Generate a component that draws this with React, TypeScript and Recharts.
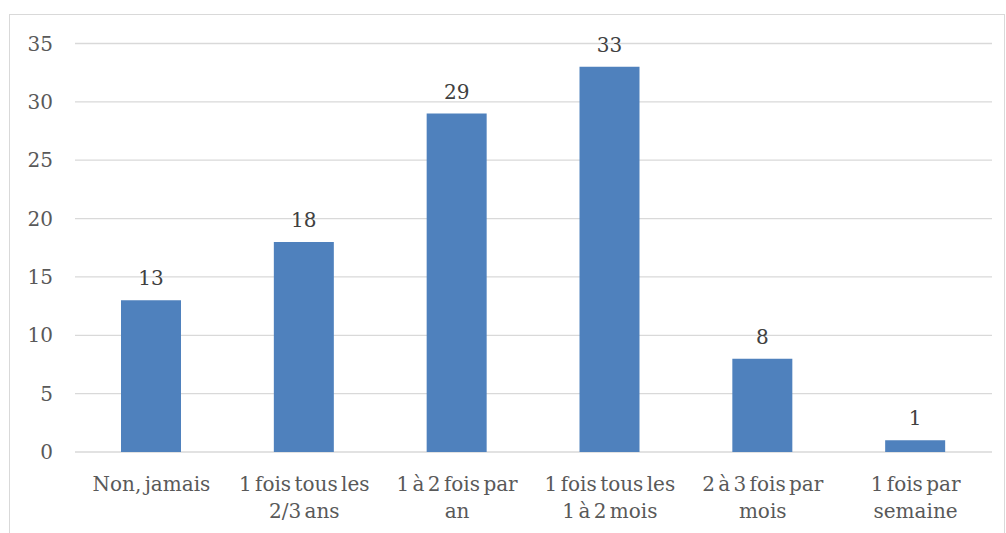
import React from "react";
import { BarChart, Bar, XAxis, YAxis, CartesianGrid, LabelList } from "recharts";

const categoryLines: string[][] = [
  ["Non, jamais"],
  ["1 fois tous les", "2/3 ans"],
  ["1 à 2 fois par", "an"],
  ["1 fois tous les", "1 à 2 mois"],
  ["2 à 3 fois par", "mois"],
  ["1 fois par", "semaine"],
];
const categories: string[] = categoryLines.map((l) => l.join(" "));
const values: number[] = [13, 18, 29, 33, 8, 1];
const yTicks: number[] = [0, 5, 10, 15, 20, 25, 30, 35];

const data = categories.map((c, i) => ({ name: c, value: values[i] }));

const FONT = "'DejaVu Serif', serif";

const XTick = (props: any) => {
  const { x, y, payload } = props;
  const idx = categories.indexOf(payload.value);
  const lines = idx >= 0 ? categoryLines[idx] : [String(payload.value)];
  return (
    <text
      x={x}
      y={y + 39}
      textAnchor="middle"
      fill="#595959"
      fontSize={20}
      fontFamily={FONT}
      style={{ wordSpacing: "-3px" }}
    >
      {lines.map((l, i) => (
        <tspan key={i} x={x} dy={i === 0 ? 0 : 27}>
          {l}
        </tspan>
      ))}
    </text>
  );
};

export default function App() {
  return (
    <div style={{ position: "relative", width: 1006, height: 533, overflow: "hidden", background: "#fff" }}>
      <style>{"body{margin:0;}"}</style>
      <div
        style={{
          position: "absolute",
          left: 9,
          top: 14,
          width: 996,
          height: 540,
          border: "1.5px solid #d9d9d9",
          boxSizing: "border-box",
        }}
      />
      <div style={{ position: "absolute", left: 0, top: 0 }}>
        <BarChart
          width={1006}
          height={533}
          data={data}
          margin={{ top: 43.5, right: 14, bottom: 0, left: 0 }}
        >
          <CartesianGrid vertical={false} stroke="#d9d9d9" strokeWidth={1.3} />
          <XAxis
            dataKey="name"
            axisLine={false}
            tickLine={false}
            tickSize={0}
            tickMargin={0}
            height={81}
            interval={0}
            tick={<XTick />}
          />
          <YAxis
            domain={[0, 35]}
            ticks={yTicks}
            width={75}
            axisLine={false}
            tickLine={false}
            tickSize={0}
            tickMargin={22}
            tick={{ fill: "#595959", fontSize: 20, fontFamily: FONT }}
          />
          <Bar dataKey="value" fill="#4F81BD" barSize={60} isAnimationActive={false}>
            <LabelList
              dataKey="value"
              position="top"
              offset={15}
              fill="#404040"
              fontSize={20}
              fontFamily={FONT}
            />
          </Bar>
        </BarChart>
      </div>
    </div>
  );
}
